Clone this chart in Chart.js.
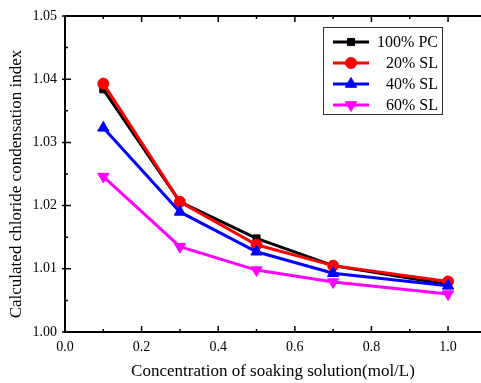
<!DOCTYPE html>
<html>
<head>
<meta charset="utf-8">
<script src="https://cdn.jsdelivr.net/npm/chart.js@4.4.0/dist/chart.umd.min.js"></script>
<style>
html, body { margin: 0; padding: 0; background: #fff; overflow: hidden; }
canvas { display: block; }
</style>
</head>
<body>
<canvas id="myChart" width="481" height="383"></canvas>
<script>
/* Data */
var concentration = [0.1, 0.3, 0.5, 0.7, 1.0];
var pc100 = [1.0384, 1.0206, 1.0148, 1.0105, 1.0075];
var sl20 = [1.0393, 1.0206, 1.0138, 1.0105, 1.0080];
var sl40 = [1.0323, 1.0190, 1.0127, 1.0093, 1.0073];
var sl60 = [1.0246, 1.0135, 1.0098, 1.0079, 1.0060];
var seriesNames = ['100% PC', '20% SL', '40% SL', '60% SL'];
var xTicks = [0.0, 0.2, 0.4, 0.6, 0.8, 1.0];
var yTicks = [1.00, 1.01, 1.02, 1.03, 1.04, 1.05];
var xTitle = 'Concentration of soaking solution(mol/L)';
var yTitle = 'Calculated chloride condensation index';
/* End Data */

function toPoints(vals) {
    var pts = [];
    for (let i = 0; i < concentration.length; i++) {
        pts.push({x: concentration[i], y: vals[i]});
    }
    return pts;
}

var serif = "'Liberation Serif', 'Times New Roman', serif";

function makeSet(label, vals, color, style, radius, rot, ord) {
    return {
        label: label,
        data: toPoints(vals),
        borderColor: color,
        backgroundColor: color,
        borderWidth: 3,
        pointStyle: style,
        pointRadius: radius,
        pointRotation: rot,
        pointBorderWidth: 1,
        pointHoverRadius: radius,
        order: ord,
        tension: 0
    };
}

/* Frame, inward ticks, y title and legend box */
const framePlugin = {
    id: 'frame',
    afterDraw: function(chart) {
        var ctx = chart.ctx;
        var a = chart.chartArea;
        var xs = chart.scales.x;
        var ys = chart.scales.y;
        ctx.save();
        ctx.strokeStyle = '#000';
        ctx.lineWidth = 2;
        ctx.beginPath();
        ctx.moveTo(a.left, a.top);
        ctx.lineTo(a.left, a.bottom);
        ctx.lineTo(a.right, a.bottom);
        ctx.moveTo(a.left, a.top);
        ctx.lineTo(a.right, a.top);
        ctx.stroke();
        ctx.lineWidth = 1.5;
        ctx.beginPath();
        for (let i = 0; i < xTicks.length; i++) {
            var px = xs.getPixelForValue(xTicks[i]);
            ctx.moveTo(px, a.bottom); ctx.lineTo(px, a.bottom - 6);
            ctx.moveTo(px, a.top); ctx.lineTo(px, a.top + 6);
            var mx = xs.getPixelForValue(xTicks[i] + 0.1);
            if (mx < a.right) {
                ctx.moveTo(mx, a.bottom); ctx.lineTo(mx, a.bottom - 3);
                ctx.moveTo(mx, a.top); ctx.lineTo(mx, a.top + 3);
            }
        }
        for (let i = 0; i < yTicks.length; i++) {
            var py = ys.getPixelForValue(yTicks[i]);
            ctx.moveTo(a.left - 3, py); ctx.lineTo(a.left + 6, py);
            if (i < yTicks.length - 1) {
                var my = ys.getPixelForValue(yTicks[i] + 0.005);
                ctx.moveTo(a.left, my); ctx.lineTo(a.left + 3, my);
            }
        }
        ctx.stroke();

        /* y title (sits a bit below the axis centre in the original) */
        ctx.save();
        ctx.translate(17, 184);
        ctx.rotate(-Math.PI / 2);
        ctx.font = '17px ' + serif;
        ctx.fillStyle = '#000';
        ctx.textAlign = 'center';
        ctx.textBaseline = 'middle';
        ctx.fillText(yTitle, 0, 0);
        ctx.restore();

        /* legend */
        var bx = 323, by = 27, bw = 119, bh = 87;
        ctx.lineWidth = 1;
        ctx.strokeStyle = '#333';
        ctx.fillStyle = '#fff';
        ctx.fillRect(bx, by, bw, bh);
        ctx.strokeRect(bx + 0.5, by + 0.5, bw, bh);
        ctx.font = '16px ' + serif;
        ctx.textAlign = 'right';
        ctx.textBaseline = 'middle';
        chart.data.datasets.forEach(function(ds, i) {
            var cy = by + 15 + i * 21;
            ctx.strokeStyle = ds.borderColor;
            ctx.lineWidth = 3;
            ctx.beginPath();
            ctx.moveTo(bx + 10, cy);
            ctx.lineTo(bx + 46, cy);
            ctx.stroke();
            ctx.fillStyle = ds.backgroundColor;
            ctx.strokeStyle = ds.borderColor;
            ctx.lineWidth = 1;
            Chart.helpers.drawPoint(ctx, {
                pointStyle: ds.pointStyle,
                radius: ds.pointRadius,
                rotation: ds.pointRotation,
                borderWidth: 1
            }, bx + 28, cy);
            ctx.fillStyle = '#000';
            ctx.fillText(ds.label, bx + bw - 4, cy + 1);
        });
        ctx.restore();
    }
};

const config = {
    type: 'line',
    data: {
        datasets: [
            makeSet(seriesNames[0], pc100, '#000000', 'rect', 5, 0, 4),
            makeSet(seriesNames[1], sl20, '#ff0000', 'circle', 5.5, 0, 3),
            makeSet(seriesNames[2], sl40, '#0000ff', 'triangle', 6.5, 0, 2),
            makeSet(seriesNames[3], sl60, '#ff00ff', 'triangle', 6.5, 180, 1)
        ]
    },
    plugins: [framePlugin],
    options: {
        responsive: false,
        animation: false,
        devicePixelRatio: 1,
        layout: { autoPadding: false, padding: { top: 16, left: 0, right: 0, bottom: 0 } },
        plugins: {
            legend: { display: false },
            tooltip: { enabled: false }
        },
        scales: {
            x: {
                type: 'linear',
                min: 0,
                max: 1.086,
                grid: { display: false, drawTicks: false },
                border: { display: false },
                afterBuildTicks: function(scale) {
                    scale.ticks = xTicks.map(function(v) { return {value: v}; });
                },
                afterFit: function(scale) {
                    scale.height = 51;
                    scale.paddingLeft = 0;
                    scale.paddingRight = 0;
                },
                ticks: {
                    padding: 7,
                    color: '#000',
                    font: { family: serif, size: 14 },
                    callback: function(v) { return v.toFixed(1); }
                },
                title: {
                    display: true,
                    text: xTitle,
                    color: '#000',
                    font: { family: serif, size: 17 },
                    padding: { top: 0, bottom: 1 }
                }
            },
            y: {
                type: 'linear',
                min: 1.00,
                max: 1.05,
                grid: { display: false, drawTicks: false },
                border: { display: false },
                afterBuildTicks: function(scale) {
                    scale.ticks = yTicks.map(function(v) { return {value: v}; });
                },
                afterFit: function(scale) {
                    scale.width = 65;
                    scale.paddingTop = 0;
                    scale.paddingBottom = 0;
                },
                ticks: {
                    padding: 8,
                    color: '#000',
                    font: { family: serif, size: 14 },
                    callback: function(v) { return v.toFixed(2); }
                }
            }
        }
    }
};

var myChart = new Chart(document.getElementById('myChart'), config);
</script>
</body>
</html>
